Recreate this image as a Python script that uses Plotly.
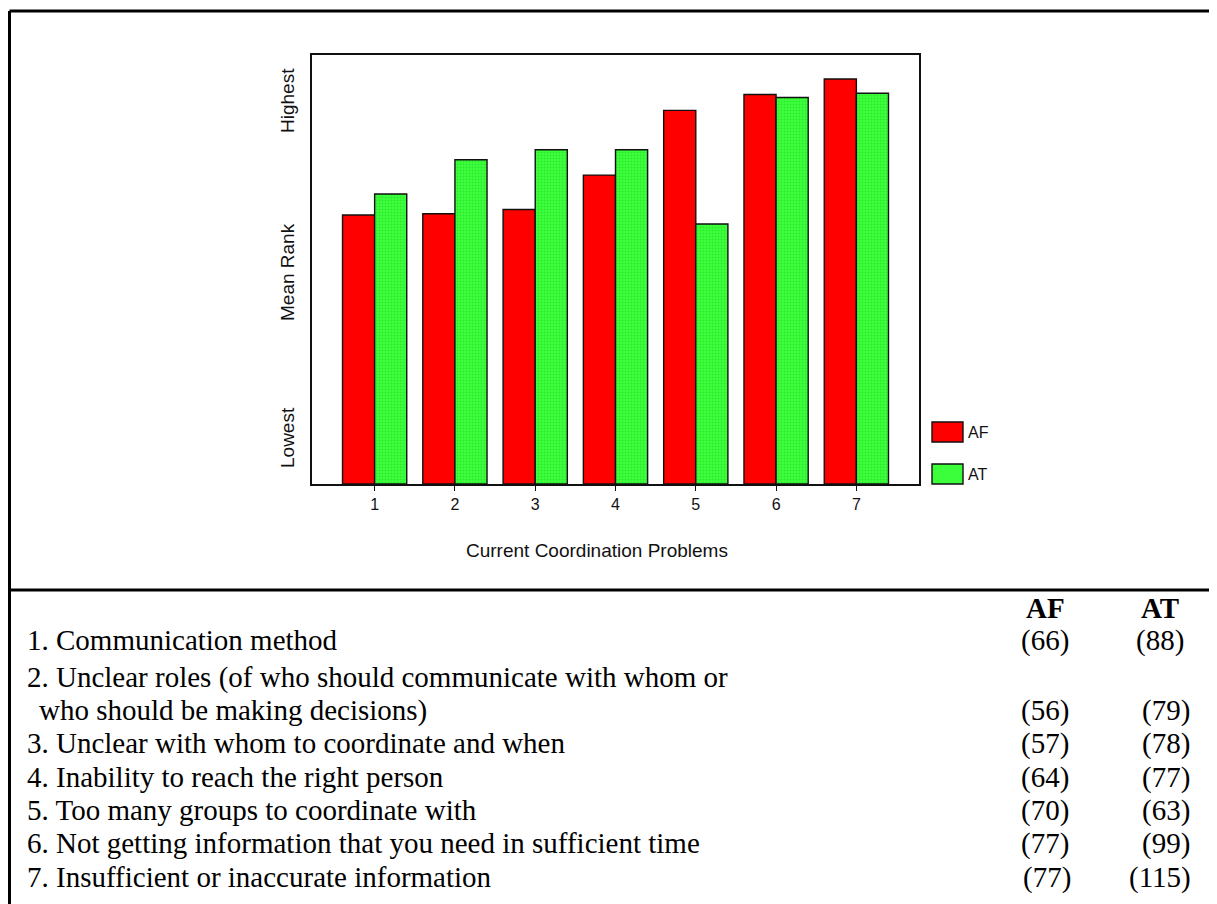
import plotly.graph_objects as go

# ---------------- data ----------------
problems = [1, 2, 3, 4, 5, 6, 7]
tick_labels = ["1", "2", "3", "4", "5", "6", "7"]
af_rank = [62.7, 63.0, 64.0, 72.0, 87.1, 90.8, 94.4]   # mean rank, % of axis height
at_rank = [67.6, 75.6, 77.9, 77.9, 60.6, 90.1, 91.1]
series_names = ["AF", "AT"]

table_items = [
    "1. Communication method",
    "2. Unclear roles (of who should communicate with whom or",
    "who should be making decisions)",
    "3. Unclear with whom to coordinate and when",
    "4. Inability to reach the right person",
    "5. Too many groups to coordinate with",
    "6. Not getting information that you need in sufficient time",
    "7. Insufficient or inaccurate information",
]
af_counts = ["(66)", "", "(56)", "(57)", "(64)", "(70)", "(77)", "(77)"]
at_counts = ["(88)", "", "(79)", "(78)", "(77)", "(63)", "(99)", "(115)"]

# ---------------- layout geometry (pixels, figure coordinates) ----------------
W, H = 1217, 904
PL, PR, PT, PB = 304, 911, 47, 476
pw, ph = PR - PL, PB - PT


def px(x):
    return (x - PL) / pw


def py(y):
    return (PB - y) / ph


RED = "#ff0000"
GREEN = "#3cff3c"
INK = "#111111"
SANS = "Liberation Sans, Arial"
SERIF = "Liberation Serif, Times New Roman"

fig = go.Figure()
fig.add_trace(go.Bar(
    x=problems, y=af_rank, name=series_names[0],
    marker=dict(color=RED, line=dict(color=INK, width=1.4)),
    showlegend=False,
))
fig.add_trace(go.Bar(
    x=problems, y=at_rank, name=series_names[1],
    marker=dict(color=GREEN, line=dict(color=INK, width=1.4),
                pattern=dict(shape=".", fgcolor="#1fd11f", bgcolor=GREEN,
                             size=3, solidity=0.35)),
    showlegend=False,
))

shapes = []
annotations = []

# legend swatches
leg = [(RED, 414, 434, series_names[0]), (GREEN, 456, 476, series_names[1])]
for col, y0, y1, lab in leg:
    shapes.append(dict(type="rect", xref="paper", yref="paper",
                       x0=px(924), x1=px(955), y0=py(y1), y1=py(y0),
                       fillcolor=col, line=dict(color=INK, width=1.4)))
    annotations.append(dict(text=lab, xref="paper", yref="paper",
                            x=px(958), y=py((y0 + y1) / 2), xanchor="left",
                            yanchor="middle", showarrow=False,
                            font=dict(family=SANS, size=16, color=INK)))

# y axis descriptive labels
for txt, yc in [("Highest", 93), ("Mean Rank", 264), ("Lowest", 430)]:
    annotations.append(dict(text=txt, xref="paper", yref="paper",
                            x=px(279), y=py(yc), textangle=-90,
                            xanchor="center", yanchor="middle", showarrow=False,
                            font=dict(family=SANS, size=19, color=INK)))

# x axis title
annotations.append(dict(text="Current Coordination Problems", xref="paper", yref="paper",
                        x=px(589), y=py(542), xanchor="center", yanchor="middle",
                        showarrow=False,
                        font=dict(family=SANS, size=19, color=INK)))

# outer frame and separator
BL = dict(color="black", width=3)
shapes.append(dict(type="line", xref="paper", yref="paper",
                   x0=px(1.5), x1=px(1240), y0=py(3), y1=py(3), line=BL))
shapes.append(dict(type="line", xref="paper", yref="paper",
                   x0=px(1.5), x1=px(1.5), y0=py(3), y1=py(930), line=BL))
shapes.append(dict(type="line", xref="paper", yref="paper",
                   x0=px(1.5), x1=px(1240), y0=py(582), y1=py(582), line=BL))

# table
TS = 29
AFX, ATX = 1037, 1152
annotations.append(dict(text="<b>" + series_names[0] + "</b>", xref="paper", yref="paper",
                        x=px(AFX), y=py(600), xanchor="center", yanchor="middle",
                        showarrow=False, font=dict(family=SERIF, size=TS, color="black")))
annotations.append(dict(text="<b>" + series_names[1] + "</b>", xref="paper", yref="paper",
                        x=px(ATX), y=py(600), xanchor="center", yanchor="middle",
                        showarrow=False, font=dict(family=SERIF, size=TS, color="black")))
row_y = [632, 669, 702, 735, 769, 802, 835, 869]
for i, (item, a, b) in enumerate(zip(table_items, af_counts, at_counts)):
    xl = 29 if i == 2 else 17
    annotations.append(dict(text=item, xref="paper", yref="paper", x=px(xl), y=py(row_y[i]),
                            xanchor="left", yanchor="middle", showarrow=False,
                            font=dict(family=SERIF, size=TS, color="black")))
    if a:
        annotations.append(dict(text=a, xref="paper", yref="paper",
                                x=px(AFX + (2 if i == 7 else 0)), y=py(row_y[i]),
                                xanchor="center", yanchor="middle", showarrow=False,
                                font=dict(family=SERIF, size=TS, color="black")))
    if b:
        annotations.append(dict(text=b, xref="paper", yref="paper",
                                x=px(ATX if i in (0, 7) else ATX + 6), y=py(row_y[i]),
                                xanchor="center", yanchor="middle", showarrow=False,
                                font=dict(family=SERIF, size=TS, color="black")))

fig.update_layout(
    width=W, height=H,
    margin=dict(l=PL, r=W - PR, t=PT, b=H - PB, pad=0),
    paper_bgcolor="white", plot_bgcolor="white",
    barmode="group", bargap=0.2, bargroupgap=0.0,
    shapes=shapes, annotations=annotations,
    showlegend=False,
    xaxis=dict(range=[0.22, 7.78], tickvals=problems, ticktext=tick_labels,
               ticks="outside", ticklen=5, tickwidth=1.3, tickcolor=INK,
               showline=True, mirror=True, linecolor=INK, linewidth=1.5,
               showgrid=False, zeroline=False,
               tickfont=dict(family=SANS, size=16, color=INK)),
    yaxis=dict(range=[0, 100], showticklabels=False, ticks="",
               showline=True, mirror=True, linecolor=INK, linewidth=1.5,
               showgrid=False, zeroline=False),
)

fig.write_html("out.html")
